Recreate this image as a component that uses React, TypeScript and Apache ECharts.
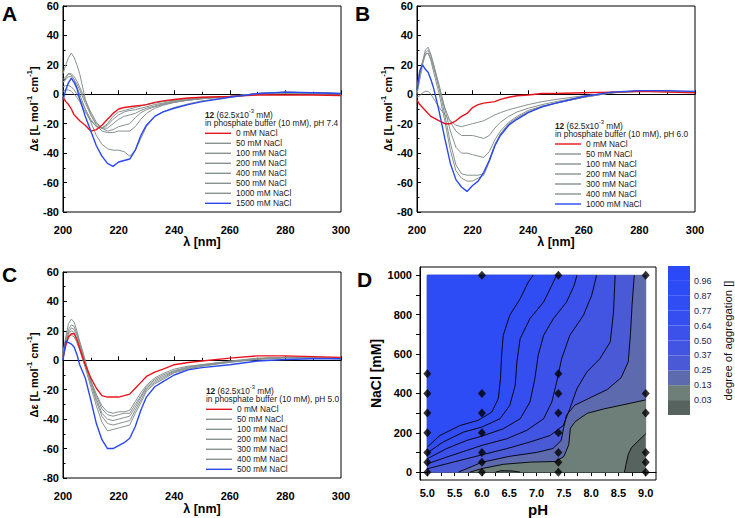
import React, { useEffect, useRef } from 'react';
import * as echarts from 'echarts';

const FONT = "'Liberation Sans', Arial, Helvetica, sans-serif";

// ---------- CD spectra (wavelength grid, nm) ----------
const WL = [200, 201, 202, 203, 204, 205, 206, 208, 210, 212, 214, 216, 218, 220, 222, 224, 226, 228, 230, 233, 236, 240, 245, 250, 260, 270, 280, 290, 300];

// Panel A: pH 7.4
const A_NAMES = ['0 mM NaCl', '50 mM NaCl', '100 mM NaCl', '200 mM NaCl', '400 mM NaCl', '500 mM NaCl', '1000 mM NaCl', '1500 mM NaCl'];
const A_0 = [-2, -5, -7, -10, -14, -16, -18, -21, -25, -24, -21, -17, -13, -10, -9, -8.5, -8, -7.5, -7, -5.5, -4.5, -3.5, -2.5, -2, -1.5, -0.5, -0.5, -0.5, -0.8];
const A_50 = [2, 3, 3, 2, 0, -2, -5, -12, -18, -22, -23, -20, -15, -12, -11, -10, -9, -8, -7, -6, -5, -4, -3, -2, -1.5, 0, 0.5, 0, -0.5];
const A_100 = [5, 6, 6, 5, 3, 0, -3, -10, -17, -22, -23, -21, -17, -14, -12, -11, -10.5, -9.5, -8.5, -7, -6, -4.5, -3.5, -2.5, -1.5, 0, 1, 0.5, 0];
const A_200 = [8, 10, 12, 12, 10, 7, 3, -6, -14, -20, -23, -23, -20, -17, -15, -14, -13, -11, -9.5, -8, -6.5, -5, -4, -3, -1.5, 0.5, 1, 1, 0.5];
const A_400 = [10, 12, 14, 14, 12, 9, 5, -4, -12, -19, -23, -25, -24, -22, -21, -20, -16, -12.5, -10.5, -8.5, -7, -5.5, -4, -3, -1.5, 0.5, 1, 1, 0.5];
const A_500 = [14, 20, 25, 28, 25, 20, 14, -3, -14, -21, -25, -26, -26, -25, -25, -25, -22, -17, -13, -9.5, -7.5, -5.5, -4, -3, -1.5, 0.5, 1.5, 1, 0.5];
const A_1000 = [8, 11, 14, 13, 10, 5, 0, -10, -19, -28, -34, -37, -38, -38, -39, -42, -38, -30, -22, -15, -12, -9, -6.5, -4.5, -2, 0.5, 1.5, 1, 0.5];
const A_1500 = [-4, 3, 8, 11, 8, 4, -3, -15, -25, -35, -42, -47, -49, -46, -45, -44, -38, -28, -21, -15, -12, -9.5, -7, -5, -2, 0.5, 1.5, 1, 0.5];

// Panel B: pH 6.0
const B_NAMES = ['0 mM NaCl', '50 mM NaCl', '100 mM NaCl', '200 mM NaCl', '300 mM NaCl', '400 mM NaCl', '1000 mM NaCl'];
const B_0 = [-4, -7, -9, -11, -13, -15, -16, -18, -20, -20, -18, -15, -13, -9, -7, -6, -5.5, -5, -3.5, -2, -1, -0.5, 0.5, 0.5, 1, 1.5, 2, 1.5, 1];
const B_50 = [-2, -1, 1, 2, 2, 0, -3, -9, -14, -18, -21, -22, -21, -20, -19, -18, -16, -14, -12.5, -10.5, -9, -7, -5, -3.5, -1, 1, 2, 2, 1.5];
const B_100 = [5, 15, 22, 27, 28, 24, 18, 4, -9, -19, -25, -28, -28, -28, -29, -30, -28, -23, -19, -15, -12, -9.5, -7, -5, -1.5, 1, 2, 2, 1.5];
const B_200 = [3, 14, 22, 28, 30, 26, 20, 6, -10, -25, -36, -40, -40, -41, -42, -43, -39, -31, -25, -19, -15, -11, -8, -6, -2, 1, 2, 2, 1.5];
const B_300 = [2, 12, 22, 30, 32, 27, 20, 4, -14, -33, -48, -54, -55, -55, -55, -54, -45, -34, -27, -20, -16, -12, -8.5, -6, -2, 1, 2.5, 2, 1.5];
const B_400 = [0, 10, 20, 27, 28, 23, 15, 0, -18, -38, -52, -57, -59, -59, -57, -55, -46, -35, -27, -20, -16, -12, -8.5, -6, -2, 1, 2.5, 2, 1.5];
const B_1000 = [3, 16, 20, 17, 15, 10, 4, -12, -30, -47, -58, -63, -66, -62, -59, -53, -45, -35, -28, -21, -17, -12.5, -8.5, -6, -1.5, 1.5, 2.5, 2.5, 2];

// Panel C: pH 5.0
const C_NAMES = ['0 mM NaCl', '50 mM NaCl', '100 mM NaCl', '200 mM NaCl', '300 mM NaCl', '400 mM NaCl', '500 mM NaCl'];
const C_0 = [2, 10, 16, 18, 18, 14, 8, -3, -12, -19, -24, -25, -25, -25, -24, -23, -19, -15, -11, -8, -6, -3, -1.5, -0.5, 1.5, 3, 3, 2.5, 2];
const C_50 = [3, 12, 19, 22, 21, 17, 11, -2, -14, -23, -31, -35, -36, -35, -35, -34, -28, -22, -17, -12, -9, -6, -4, -3, -0.5, 1.5, 2, 2, 1.5];
const C_100 = [4, 14, 21, 24, 23, 18, 12, -1, -14, -24, -33, -37, -38, -37, -36, -36, -30, -24, -18, -13, -10, -7, -4.5, -3, -1, 1, 2, 2, 1.5];
const C_200 = [5, 16, 25, 28, 26, 20, 13, 0, -14, -26, -36, -40, -41, -40, -39, -38, -32, -25, -19, -14, -11, -7.5, -5, -3.5, -1, 1, 2, 2, 1.5];
const C_300 = [3, 12, 18, 20, 19, 15, 9, -3, -16, -28, -38, -43, -44, -43, -42, -41, -34, -27, -20, -15, -12, -8, -5.5, -4, -1, 1, 2, 1.5, 1];
const C_400 = [2, 11, 16, 17, 16, 12, 7, -5, -18, -31, -42, -48, -47, -46, -45, -44, -36, -29, -21, -16, -13, -8.5, -6, -4, -1.5, 0.5, 1.5, 1.5, 1];
const C_500 = [0, 13, 12, 11, 9, 4, -3, -12, -27, -43, -54, -60, -60, -58, -56, -53, -45, -34, -25, -18, -14.5, -10, -6.5, -5, -3, -0.5, 0.5, 1, 1];

const PANEL_PH = ['7.4', '6.0', '5.0'];

// ---------- Panel D: contour map (pH, NaCl mM) ----------
const PH_LABELS = [5, 5.5, 6, 6.5, 7, 7.5, 8, 8.5, 9];
const PH_TICKS = [5, 5.25, 5.5, 5.75, 6, 6.25, 6.5, 6.75, 7, 7.25, 7.5, 7.75, 8, 8.25, 8.5, 8.75, 9];
const NACL_LABELS = [0, 200, 400, 600, 800, 1000];
const NACL_TICKS = [0, 100, 200, 300, 400, 500, 600, 700, 800, 900, 1000];

const MEAS_PH5 = [0, 50, 100, 200, 300, 400, 500];
const MEAS_PH6 = [0, 50, 100, 200, 300, 400, 1000];
const MEAS_PH74 = [0, 50, 100, 200, 300, 400, 500, 1000];
const MEAS_PH9 = [0, 50, 100, 300, 400, 1000];

const DOMAIN = [[5, 0], [9, 0], [9, 1000], [5, 1000]];
const L087 = [[5.0, 127], [5.23, 186], [5.6, 237], [5.93, 263], [6.18, 305], [6.3, 373], [6.34, 475], [6.36, 593], [6.39, 695], [6.51, 797], [6.7, 881], [6.85, 966], [6.94, 1000]];
const L077 = [[5.0, 98], [5.29, 153], [5.66, 203], [6.0, 229], [6.33, 271], [6.51, 339], [6.61, 441], [6.64, 559], [6.7, 678], [6.88, 780], [7.13, 864], [7.28, 949], [7.37, 1000]];
const L064 = [[5.0, 68], [5.35, 119], [5.72, 161], [6.0, 183], [6.39, 220], [6.7, 271], [6.88, 356], [6.97, 475], [7.03, 593], [7.13, 695], [7.31, 780], [7.55, 864], [7.69, 949], [7.74, 1000]];
const L050 = [[5.0, 42], [5.35, 76], [5.72, 110], [6.0, 136], [6.45, 169], [6.82, 212], [7.13, 271], [7.28, 356], [7.37, 458], [7.46, 576], [7.61, 695], [7.86, 797], [8.01, 898], [8.1, 1000]];
const L037 = [[5.0, 17], [5.35, 42], [5.72, 68], [6.0, 88], [6.45, 119], [6.88, 153], [7.25, 186], [7.49, 237], [7.61, 322], [7.74, 424], [7.92, 508], [8.16, 576], [8.35, 661], [8.41, 814], [8.44, 1000]];
const L025 = [[5.57, 0], [6.0, 50], [6.5, 80], [7.0, 100], [7.3, 120], [7.45, 160], [7.5, 230], [7.55, 290], [7.7, 340], [8.0, 380], [8.3, 420], [8.55, 480], [8.68, 560], [8.72, 700], [8.75, 850], [8.79, 1000]];
const L013 = [[5.78, 0], [6.03, 20], [6.4, 40], [6.89, 51], [7.35, 54], [7.5, 79], [7.59, 139], [7.62, 223], [7.71, 257], [7.93, 299], [8.23, 321], [8.72, 350], [9.0, 367]];
const L003 = [[8.61, 0], [8.64, 40], [8.68, 90], [8.74, 125], [8.85, 155], [9.0, 195]];
const SLIVER = [[6.25, 0], [6.35, 7], [6.55, 6], [6.7, 0]];

const TOP_LEFT = [5, 1000];
const BOTTOM_LEFT = [5, 0];
const TOP_RIGHT = [9, 1000];

const D_POLYS = [
  DOMAIN,
  [...L003, TOP_RIGHT, TOP_LEFT, BOTTOM_LEFT],
  SLIVER,
  [...L013, TOP_RIGHT, TOP_LEFT, BOTTOM_LEFT],
  [...L025, TOP_LEFT, BOTTOM_LEFT],
  [...L037, TOP_LEFT],
  [...L050, TOP_LEFT],
  [...L064, TOP_LEFT],
  [...L077, TOP_LEFT],
  [...L087, TOP_LEFT],
];
const D_FILLS = ['#56635f', '#6e7e79', '#56635f', '#5d6aae', '#4a5ad6', '#4255e2', '#3b51ea', '#354ef0', '#304cf3', '#2d4cf6'];
const D_LINES = [L087, L077, L064, L050, L037, L025, L013, L003, SLIVER];

// Colour bar
const CB_LABELS = ['0.03', '0.13', '0.25', '0.37', '0.50', '0.64', '0.77', '0.87', '0.96'];
const CB_COLORS = ['#56635f', '#6e7e79', '#5d6aae', '#4a5ad6', '#4255e2', '#3b51ea', '#354ef0', '#304cf3', '#2d4cf6', '#2c49f8'];

const RED = '#e8141c';
const BLUE = '#2a48f0';
const GRAY = '#87918f';

function mk(panel: string, gi: number, name: string, vals: number[], color: string, width: number, z: number) {
  return {
    type: 'line',
    name: panel + '|' + name,
    xAxisIndex: gi,
    yAxisIndex: gi,
    data: WL.map((w, i) => [w, vals[i]]),
    symbol: 'none',
    showSymbol: false,
    lineStyle: { color, width },
    itemStyle: { color },
    z,
    silent: true,
  };
}

function cdX(gi: number, gap: number) {
  return {
    gridIndex: gi, type: 'value', min: 200, max: 300, interval: 20,
    axisLine: { show: true, lineStyle: { color: '#000', width: 1 } },
    axisTick: { show: true, inside: true, length: 4, lineStyle: { color: '#000' } },
    minorTick: { show: true, splitNumber: 2, length: 2.5, lineStyle: { color: '#000' } },
    axisLabel: { fontSize: 11, fontWeight: 'bold', color: '#000', margin: 12, fontFamily: FONT },
    splitLine: { show: false },
    name: 'λ [nm]', nameLocation: 'middle', nameGap: gap,
    nameTextStyle: { fontSize: 12.5, fontWeight: 'bold', color: '#000', fontFamily: FONT },
  };
}
function cdY(gi: number) {
  return {
    gridIndex: gi, type: 'value', min: -80, max: 60, interval: 20,
    axisLine: { show: true, lineStyle: { color: '#000', width: 1 } },
    axisTick: { show: true, inside: true, length: 4, lineStyle: { color: '#000' } },
    minorTick: { show: true, splitNumber: 2, length: 2.5, lineStyle: { color: '#000' } },
    axisLabel: { fontSize: 11, fontWeight: 'bold', color: '#000', margin: 4, fontFamily: FONT },
    splitLine: { show: false },
    name: '{a|Δε [L mol}{s|-1}{a| cm}{s|-1}{a|]}', nameLocation: 'middle', nameGap: 24, nameRotate: 90,
    nameTextStyle: {
      color: '#000', fontFamily: FONT,
      rich: {
        a: { fontSize: 11, fontWeight: 'bold', color: '#000', fontFamily: FONT, lineHeight: 14, verticalAlign: 'bottom' },
        s: { fontSize: 7.5, fontWeight: 'bold', color: '#000', fontFamily: FONT, lineHeight: 8, verticalAlign: 'top' },
      },
    },
  };
}

function legend(panel: string, names: string[], left: number, top: number) {
  return {
    orient: 'vertical', left, top, itemWidth: 26, itemHeight: 1.4, itemGap: 0, padding: 0,
    icon: 'rect',
    selectedMode: false,
    data: names.map((n) => panel + '|' + n),
    formatter: (n: string) => n.split('|')[1],
    textStyle: { fontSize: 8.3, fontFamily: FONT, color: '#1a1a1a', lineHeight: 10, height: 10 },
  };
}

const titleRich = {
  b: { fontSize: 8.3, fontWeight: 'bold', fontFamily: FONT, fill: '#1a1a1a', lineHeight: 11, verticalAlign: 'bottom' },
  n: { fontSize: 8.3, fontFamily: FONT, fill: '#1a1a1a', lineHeight: 11, verticalAlign: 'bottom' },
  s: { fontSize: 5.8, fontFamily: FONT, fill: '#1a1a1a', lineHeight: 6, verticalAlign: 'top' },
};

function titleEls(x: number, y: number, ph: string) {
  return [
    { type: 'text', x, y: y, silent: true, style: { text: '{b|12}{n| (62.5x10}{s|-3}{n| mM)}', rich: titleRich, verticalAlign: 'middle', fontFamily: FONT, fontSize: 8.3, fill: '#1a1a1a' } },
    { type: 'text', x, y: y + 10, silent: true, style: { text: 'in phosphate buffer (10 mM), pH ' + ph, verticalAlign: 'middle', fontFamily: FONT, fontSize: 8.3, fill: '#1a1a1a' } },
  ];
}

function letter(t: string, x: number, y: number) {
  return { type: 'text', x, y, silent: true, style: { text: t, fontSize: 21, fontWeight: 'bold', fontFamily: FONT, fill: '#000', verticalAlign: 'middle' } };
}

export default function App() {
  const ref = useRef<HTMLDivElement>(null);
  useEffect(() => {
    document.body.style.margin = '0';
    const chart = echarts.init(ref.current!, null, { renderer: 'svg' });

    const series: any[] = [
      mk('A', 0, A_NAMES[1], A_50, GRAY, 1, 2), mk('A', 0, A_NAMES[2], A_100, GRAY, 1, 2),
      mk('A', 0, A_NAMES[3], A_200, GRAY, 1, 2), mk('A', 0, A_NAMES[4], A_400, GRAY, 1, 2),
      mk('A', 0, A_NAMES[5], A_500, GRAY, 1, 2), mk('A', 0, A_NAMES[6], A_1000, GRAY, 1, 2),
      mk('A', 0, A_NAMES[0], A_0, RED, 1.4, 3), mk('A', 0, A_NAMES[7], A_1500, BLUE, 1.4, 3),

      mk('B', 1, B_NAMES[1], B_50, GRAY, 1, 2), mk('B', 1, B_NAMES[2], B_100, GRAY, 1, 2),
      mk('B', 1, B_NAMES[3], B_200, GRAY, 1, 2), mk('B', 1, B_NAMES[4], B_300, GRAY, 1, 2),
      mk('B', 1, B_NAMES[5], B_400, GRAY, 1, 2),
      mk('B', 1, B_NAMES[0], B_0, RED, 1.4, 3), mk('B', 1, B_NAMES[6], B_1000, BLUE, 1.4, 3),

      mk('C', 2, C_NAMES[1], C_50, GRAY, 1, 2), mk('C', 2, C_NAMES[2], C_100, GRAY, 1, 2),
      mk('C', 2, C_NAMES[3], C_200, GRAY, 1, 2), mk('C', 2, C_NAMES[4], C_300, GRAY, 1, 2),
      mk('C', 2, C_NAMES[5], C_400, GRAY, 1, 2),
      mk('C', 2, C_NAMES[0], C_0, RED, 1.4, 3), mk('C', 2, C_NAMES[6], C_500, BLUE, 1.4, 3),

      {
        type: 'custom', xAxisIndex: 3, yAxisIndex: 3, silent: true, z: 1,
        data: D_POLYS.map((p, i) => [p[0][0], p[0][1], i]),
        encode: { x: 0, y: 1 },
        renderItem: (params: any, api: any) => {
          const i = api.value(2);
          return {
            type: 'polygon',
            shape: { points: D_POLYS[i].map((pt) => api.coord(pt)) },
            style: { fill: D_FILLS[i], stroke: D_FILLS[i], lineWidth: 0.3 },
          };
        },
      },
      {
        type: 'custom', xAxisIndex: 3, yAxisIndex: 3, silent: true, z: 2,
        data: D_LINES.map((l, i) => [l[0][0], l[0][1], i]),
        encode: { x: 0, y: 1 },
        renderItem: (params: any, api: any) => {
          const i = api.value(2);
          return {
            type: 'polyline',
            shape: { points: D_LINES[i].map((pt) => api.coord(pt)) },
            style: { fill: 'none', stroke: '#000', lineWidth: 0.9 },
          };
        },
      },
      {
        type: 'scatter', xAxisIndex: 3, yAxisIndex: 3, silent: true, z: 3,
        symbol: 'diamond', symbolSize: [8, 9], itemStyle: { color: '#000' },
        data: [
          ...MEAS_PH5.map((v) => [5.0, v]),
          ...MEAS_PH6.map((v) => [6.0, v]),
          ...MEAS_PH74.map((v) => [7.4, v]),
          ...MEAS_PH9.map((v) => [9.0, v]),
        ],
      },
      {
        type: 'custom', xAxisIndex: 4, yAxisIndex: 4, silent: true,
        data: CB_COLORS.map((c, i) => [0, i]),
        encode: { x: 0, y: 1 },
        renderItem: (params: any, api: any) => {
          const i = api.value(1);
          const p0 = api.coord([0, i + 1]);
          const p1 = api.coord([1, i]);
          return { type: 'rect', shape: { x: p0[0], y: p0[1], width: p1[0] - p0[0], height: p1[1] - p0[1] }, style: { fill: CB_COLORS[i] } };
        },
      },
    ];

    const option: any = {
      animation: false,
      grid: [
        { left: 63, top: 6, width: 278, height: 206, show: true, borderColor: '#000', borderWidth: 1 },
        { left: 417, top: 6, width: 278, height: 206, show: true, borderColor: '#000', borderWidth: 1 },
        { left: 63, top: 272, width: 278, height: 206, show: true, borderColor: '#000', borderWidth: 1 },
        { left: 420, top: 267, width: 236, height: 213, show: true, borderColor: '#000', borderWidth: 1 },
        { left: 668, top: 266, width: 22, height: 149, show: false },
      ],
      xAxis: [
        cdX(0, 21), cdX(1, 21), cdX(2, 24),
        {
          gridIndex: 3, type: 'value', min: 4.866, max: 9.188,
          axisLine: { show: true, lineStyle: { color: '#000' } },
          axisTick: { show: true, length: 4, customValues: PH_TICKS, lineStyle: { color: '#000' } },
          axisLabel: { customValues: PH_LABELS, formatter: (v: number) => v.toFixed(1), fontSize: 11, fontWeight: 'bold', color: '#000', margin: 7, fontFamily: FONT },
          splitLine: { show: false },
          name: 'pH', nameLocation: 'middle', nameGap: 22,
          nameTextStyle: { fontSize: 15, fontWeight: 'bold', color: '#000', fontFamily: FONT },
        },
        { gridIndex: 4, type: 'value', min: 0, max: 1, show: false },
      ],
      yAxis: [
        cdY(0), cdY(1), cdY(2),
        {
          gridIndex: 3, type: 'value', min: -40, max: 1042,
          axisLine: { show: true, lineStyle: { color: '#000' } },
          axisTick: { show: true, length: 4, customValues: NACL_TICKS, lineStyle: { color: '#000' } },
          axisLabel: { customValues: NACL_LABELS, formatter: (v: number) => String(v), fontSize: 11, fontWeight: 'bold', color: '#000', margin: 8, fontFamily: FONT },
          splitLine: { show: false },
          name: 'NaCl [mM]', nameLocation: 'middle', nameGap: 37, nameRotate: 90,
          nameTextStyle: { fontSize: 14, fontWeight: 'bold', color: '#000', fontFamily: FONT },
        },
        {
          gridIndex: 4, type: 'value', min: 0, max: 10, position: 'right',
          axisLine: { show: false }, axisTick: { show: false }, splitLine: { show: false },
          axisLabel: {
            customValues: [1, 2, 3, 4, 5, 6, 7, 8, 9],
            formatter: (v: number) => CB_LABELS[Math.round(v) - 1] || '',
            fontSize: 9, color: '#1c2452', margin: 4, fontFamily: FONT,
          },
          name: 'degree of aggregation []', nameLocation: 'middle', nameGap: 32, nameRotate: 90,
          nameTextStyle: { fontSize: 11.3, color: '#111', fontFamily: FONT },
        },
      ],
      legend: [
        legend('A', A_NAMES, 205, 128.3),
        legend('B', B_NAMES, 555, 139),
        legend('C', C_NAMES, 206, 404.3),
      ],
      graphic: [
        letter('A', 2, 13),
        letter('B', 355, 13),
        letter('C', 2, 274),
        letter('D', 357, 279),
        ...titleEls(205, 113, PANEL_PH[0]),
        ...titleEls(555, 124, PANEL_PH[1]),
        ...titleEls(206, 389, PANEL_PH[2]),
      ],
      series,
    };
    chart.setOption(option);
    return () => chart.dispose();
  }, []);
  return <div ref={ref} style={{ width: 735, height: 518 }} />;
}
